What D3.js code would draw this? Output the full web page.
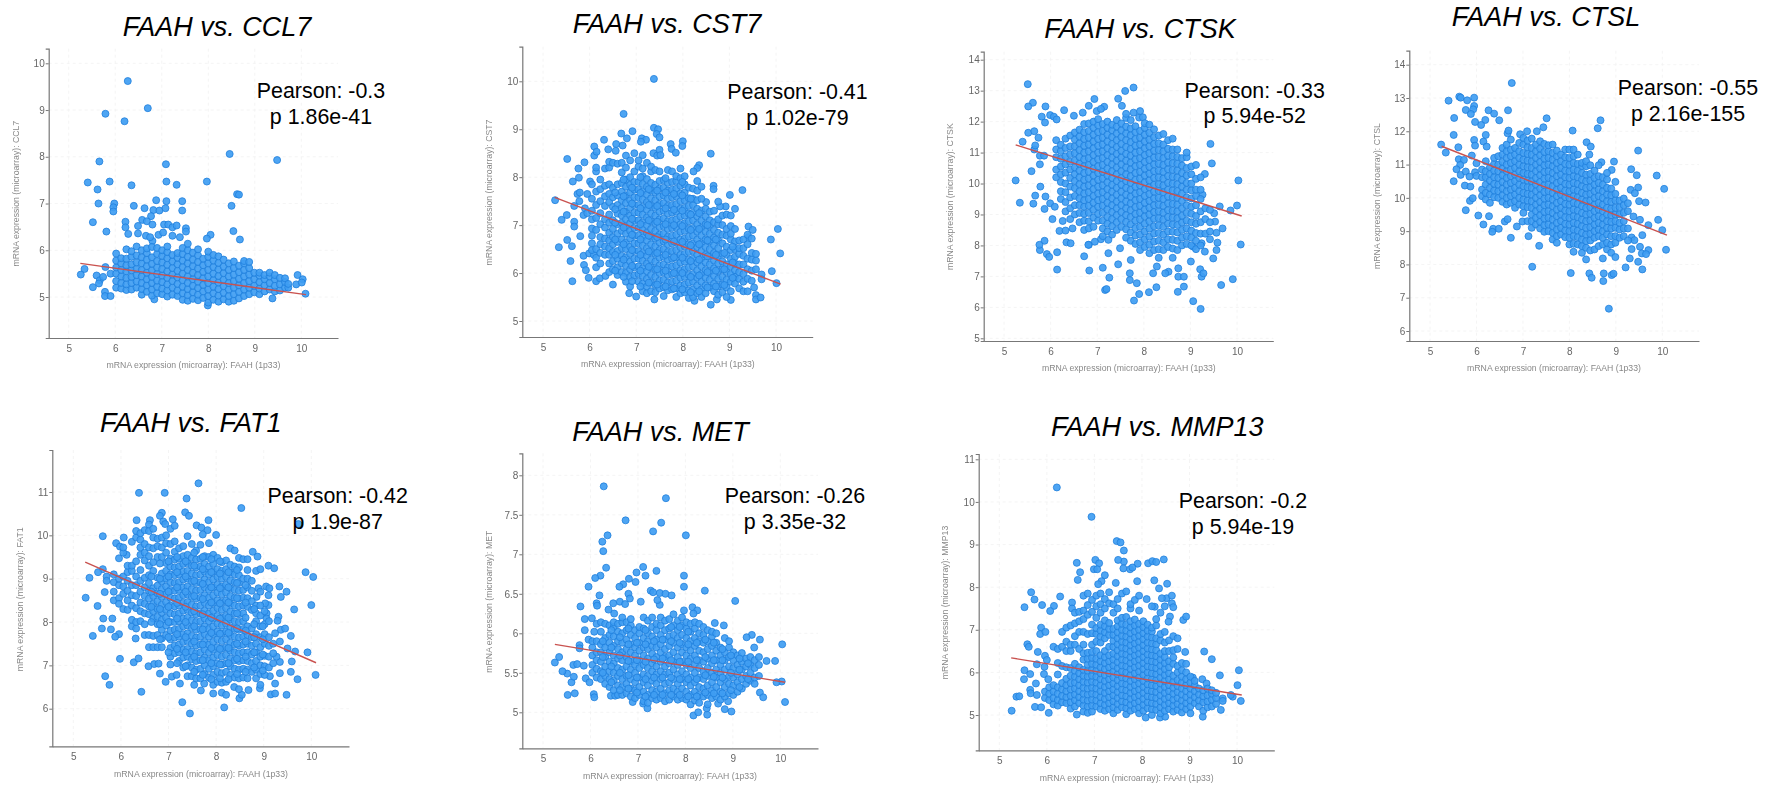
<!DOCTYPE html>
<html><head><meta charset="utf-8">
<style>html,body{margin:0;padding:0;background:#fff;overflow:hidden}svg{display:block}</style>
<script src="https://cdnjs.cloudflare.com/ajax/libs/d3/7.8.5/d3.min.js"></script>
</head><body><svg id="c" width="1768" height="793"></svg>
<script>
// Each row: [FAAH x, then the target-gene y values read at that x]
const ccl7Points=[[6.27,9.62],[6.7,9.04],[5.79,8.92],[6.2,8.76],[5.66,7.9],[7.09,7.84],[8.46,8.06],[9.48,7.93],[5.41,7.45],[5.62,7.3],[5.88,7.47],[6.35,7.39],[7.1,7.47],[7.32,7.4],[7.97,7.47],[8.62,7.2],[8.66,7.19],[5.64,7],[5.98,7],[5.96,6.92,6.83],[6.4,6.95],[6.63,6.9],[6.88,7.07],[7.1,7.05],[7.44,7.05,6.85],[8.5,6.95],[6.82,6.86],[6.95,6.85],[7.08,6.9],[6.77,6.73],[6.58,6.65],[6.68,6.62],[5.52,6.6],[6.22,6.61,6.49],[5.81,6.4],[6.28,6.35],[6.49,6.36,6.52],[6.8,6.55,6.2],[7.05,6.55],[7.14,6.55],[7.23,6.49,6.31],[7.32,6.53],[7.52,6.47,6.4],[6.93,6.33],[7.03,6.38],[7.39,6.28],[8.54,6.41],[8.68,6.23],[8.05,6.33],[7.97,6.25],[6.66,6.31],[6.75,6.28],[5.26,5.48],[5.34,5.6],[5.52,5.21],[5.6,5.46],[5.67,5.36],[5.65,5.29],[5.78,5.11,5.02],[5.9,5.02,5.5],[5.79,5.64],[5.74,5.43],[9.38,4.97],[10.09,5.07],[9.92,5.47],[10.03,5.38],[9.89,5.27],[10.01,5.31],[7.99,4.82],[6.84,4.95],
[6.02,5.2,5.34,5.5,5.63,5.78,5.93],[6.13,5.18,5.3,5.44,5.58,5.72,5.83],[6.24,5.15,5.27,5.41,5.55,5.68,5.82,6.02],[6.35,5.16,5.3,5.43,5.57,5.7,5.86,5.98],[6.46,5.2,5.33,5.47,5.6,5.74,5.89,6.08],[6.57,5.05,5.17,5.3,5.44,5.58,5.72,5.85,6],[6.68,5.11,5.25,5.38,5.52,5.66,5.8,5.94,6.04],[6.79,5.03,5.16,5.3,5.43,5.57,5.71,5.85,6.07],[6.9,5.08,5.22,5.35,5.49,5.63,5.77,5.92,6.05],[7.01,5.06,5.18,5.32,5.46,5.6,5.74,5.88,6],[7.12,5.01,5.14,5.27,5.41,5.55,5.69,5.83,5.96,6.08],[7.23,5.05,5.2,5.34,5.48,5.62,5.76,5.9],[7.34,5.02,5.14,5.28,5.42,5.56,5.7,5.84,5.94],[7.45,4.94,5.08,5.22,5.36,5.5,5.64,5.78,5.92,6.05],[7.56,4.92,5.04,5.17,5.3,5.44,5.58,5.72,5.86,6,6.14],[7.67,4.96,5.1,5.24,5.38,5.52,5.66,5.8,5.95],[7.78,4.93,5.05,5.19,5.33,5.47,5.61,5.75,5.89,6.02],[7.89,4.98,5.12,5.26,5.4,5.54,5.68,5.82],[8,4.88,5.02,5.16,5.3,5.44,5.58,5.72,5.86,5.97],[8.11,4.94,5.08,5.22,5.36,5.5,5.64,5.78,5.9],[8.22,4.9,5.03,5.17,5.31,5.45,5.59,5.73,5.87],[8.33,4.95,5.09,5.23,5.37,5.51,5.65,5.8],[8.44,4.9,5.02,5.16,5.3,5.44,5.58,5.72],[8.55,4.92,5.06,5.2,5.34,5.48,5.62,5.76],[8.66,4.97,5.11,5.25,5.39,5.53,5.67],[8.77,5.02,5.16,5.3,5.44,5.58,5.72,5.77],[8.88,5.06,5.2,5.34,5.48,5.62,5.75],[8.99,5.1,5.24,5.38,5.52],[9.1,5.06,5.18,5.32,5.46,5.52],[9.21,5.12,5.25,5.38,5.47],[9.32,5.16,5.3,5.44,5.52],[9.43,5.12,5.24,5.38,5.47],[9.54,5.14,5.27,5.41],[9.65,5.2,5.32,5.4],[9.72,5.2,5.28]];

const cst7Points=[[7.38,10.05,9.03],[6.73,9.32],[7.47,9],[7.44,8.9],[7.5,8.83,8.57],[6.92,8.96],[6.68,8.91],[6.8,8.81],[6.31,8.78],[7.12,8.81],[7.21,8.78],[7.1,8.74],[6.57,8.69],[6.71,8.66],[6.1,8.64,8.45],[6.15,8.53],[6.4,8.58],[6.56,8.55],[8,8.75],[7.99,8.65],[7.74,8.69],[7.76,8.59],[7.85,8.51],[7.37,8.5],[7.45,8.45],[7.52,8.46],[8.6,8.49],[5.52,8.38],[5.89,8.31],[5.76,8.18],[5.77,7.99],[5.64,7.91],[6.01,7.91],[9.28,7.73],[9.01,7.63],[8.66,7.82,7.75],[8.35,8.25],[8.31,8.19],[8.23,8.12],[5.74,7.65],[5.79,7.68],[5.95,7.65],[5.78,7.5],[5.26,7.52],[5.67,7.4,7.07,6.97],[5.9,7.35],[5.51,7.21],[5.4,7.11],[5.87,7.21,6.36],[5.95,7.25],[5.8,6.77],[5.52,6.69],[5.34,6.54],[5.62,6.56],[5.59,6.25],[5.63,5.83],[5.99,6.41],[6.09,6.38],[5.88,6.17],[5.92,6.06],[5.98,5.9],[6.14,5.83],[6.22,5.89],[6.34,5.94],[6.5,5.76],[10.04,6.92],[10.09,6.41],[9.89,6.7],[9.91,6.04],[10.01,5.79],[9.69,5.97,5.87],[9.53,5.7],[9.57,5.54,5.45],[9.67,5.49],[8.6,5.34],[7,5.51],[6.85,5.58],[7.39,5.45],[8.25,5.42],[8.73,5.45],[9.03,5.44],[9.41,6.97,6.75],[9.5,6.9],[9.12,7.34],[8.92,7.39],[8.8,7.39],[8.76,7.49],[8.5,7.48],
[6.05,6.48,6.62,6.78,6.93,7.12,7.3,7.55,7.85],[6.14,6.12,6.32,6.5,6.9,7.15,7.42,7.7,8.12,8.2],[6.23,6.2,6.42,6.6,6.75,7.02,7.25,7.5,7.75,7.95],[6.33,6.38,6.55,6.72,6.95,7.12,7.4,7.6,7.82,8.18],[6.42,6.02,6.2,6.38,6.52,6.68,6.84,7.05,7.22,7.48,7.65,7.85,8.2,8.32],[6.5,6.08,6.25,6.44,6.6,6.75,6.92,7.1,7.38,7.58,7.78,8.3],[6.6,5.96,6.12,6.3,6.46,6.65,6.82,7.02,7.24,7.42,7.62,7.85,8.28],[6.69,6.02,6.2,6.36,6.52,6.7,6.88,7.05,7.2,7.36,7.52,7.7,7.88,8.1,8.3],[6.78,5.82,6,6.15,6.33,6.5,6.64,6.82,6.96,7.12,7.28,7.46,7.62,7.8,7.95,8.2,8.45],[6.87,5.72,5.92,6.08,6.24,6.4,6.55,6.72,6.88,7.04,7.2,7.36,7.52,7.68,7.84,8,8.35],[6.96,5.95,6.12,6.3,6.46,6.62,6.78,6.94,7.1,7.26,7.42,7.58,7.74,7.9,8.12,8.5],[7.05,5.82,5.98,6.14,6.3,6.46,6.62,6.78,6.94,7.1,7.26,7.42,7.58,7.74,7.9,8.22,8.35],[7.14,5.62,5.78,5.94,6.1,6.26,6.42,6.58,6.74,6.9,7.06,7.22,7.38,7.54,7.7,7.86,8.02,8.18,8.46],[7.23,5.58,5.72,5.88,6.04,6.2,6.36,6.52,6.68,6.84,7,7.16,7.32,7.48,7.64,7.8,7.96,8.3],[7.32,5.62,5.8,5.96,6.12,6.28,6.44,6.6,6.76,6.92,7.08,7.24,7.4,7.56,7.72,7.88,8.12,8.22],[7.41,5.6,5.75,5.92,6.08,6.24,6.4,6.56,6.72,6.88,7.04,7.2,7.36,7.52,7.68,7.84,8.15],[7.5,5.68,5.84,6,6.16,6.32,6.48,6.64,6.8,6.96,7.12,7.28,7.44,7.6,7.76,7.92,8.12],[7.59,5.52,5.7,5.86,6.02,6.18,6.34,6.5,6.66,6.82,6.98,7.14,7.3,7.46,7.62,7.78,7.94],[7.68,5.64,5.8,5.96,6.12,6.28,6.44,6.6,6.76,6.92,7.08,7.24,7.4,7.56,7.72,7.88,8.15],[7.77,5.66,5.82,5.98,6.14,6.3,6.46,6.62,6.78,6.94,7.1,7.26,7.42,7.58,7.74,7.9,8.12],[7.86,5.5,5.68,5.84,6,6.16,6.32,6.48,6.64,6.8,6.96,7.12,7.28,7.44,7.6,7.76,7.92,8.02],[7.95,5.58,5.74,5.9,6.06,6.22,6.38,6.54,6.7,6.86,7.02,7.18,7.34,7.5,7.66,7.82,7.98,8.18],[8.04,5.6,5.76,5.92,6.08,6.24,6.4,6.56,6.72,6.88,7.04,7.2,7.36,7.52,7.68,7.85,8.02],[8.13,5.48,5.64,5.8,5.96,6.12,6.28,6.44,6.6,6.76,6.92,7.08,7.24,7.4,7.56,7.78],[8.22,5.5,5.66,5.82,5.98,6.14,6.3,6.46,6.62,6.78,6.94,7.1,7.26,7.42,7.55,7.76],[8.31,5.58,5.74,5.9,6.06,6.22,6.38,6.54,6.7,6.86,7.02,7.18,7.34,7.52,7.72,7.92],[8.4,5.5,5.66,5.82,5.98,6.14,6.3,6.46,6.62,6.78,6.94,7.1,7.3,7.55,7.8],[8.49,5.58,5.74,5.9,6.06,6.22,6.38,6.54,6.7,6.86,7.02,7.18,7.34],[8.58,5.7,5.86,6.02,6.18,6.34,6.5,6.66,6.82,6.98,7.1,7.28],[8.67,5.62,5.78,5.94,6.1,6.26,6.42,6.58,6.74,6.9,7.06,7.3],[8.76,5.55,5.72,5.88,6.04,6.2,6.36,6.52,6.68,6.84,7.02,7.12],[8.85,5.6,5.76,5.92,6.08,6.24,6.4,6.62,6.8,7,7.2],[8.94,5.5,5.7,5.86,6.02,6.18,6.38,6.55,6.78,6.92,7.22],[9.03,5.62,5.82,5.98,6.14,6.3,6.48,6.7,6.82,6.98,7.2],[9.12,5.78,5.92,6.06,6.2,6.34,6.5,6.66,6.92],[9.21,5.68,5.88,6.02,6.18,6.4,6.52,6.68],[9.3,5.62,5.82,5.98,6.18,6.36,6.52,6.7],[9.39,5.62,5.88,6.08,6.3,6.6,6.8],[9.48,5.84,6.05,6.28,6.42,6.72],[9.57,6.08,6.26,6.4],
[6.55,6.05,6.38,6.7,7.05,7.33,7.68],[6.73,5.92,6.28,6.6,6.95,7.28,7.6,7.95],[6.91,5.83,6.15,6.48,6.8,7.13,7.45,7.78],[7.09,5.72,6.05,6.38,6.7,7.02,7.35,7.67,8],[7.27,5.8,6.13,6.45,6.78,7.1,7.42,7.75],[7.45,5.76,6.08,6.42,6.75,7.07,7.4,7.72],[7.63,5.72,6.05,6.38,6.7,7.02,7.35,7.68,7.98],[7.81,5.68,6,6.33,6.66,7,7.32,7.65],[7.99,5.66,6,6.32,6.65,6.98,7.3,7.62,7.9],[8.17,5.6,5.92,6.25,6.58,6.9,7.22,7.55],[8.35,5.62,5.95,6.28,6.6,6.92,7.25],[8.53,5.7,6.02,6.35,6.68,7],[8.71,5.72,6.05,6.38,6.7],[8.89,5.75,6.08,6.42],[9.07,5.9,6.22,6.55]];

const ctskPoints=[[5.51,13.21],[7.78,13.1,12.29],[7.6,12.99],[6.94,12.73],[7.45,12.74],[5.62,12.61],[5.52,12.49,11.64],[5.89,12.49,9.58],[6.29,12.37],[6.82,12.51,8.02],[7.15,12.48],[6.99,12.34],[7.08,12.41,8.2],[7.53,12.51],[6.69,12.29],[6.5,12.19],[5.81,12.16],[5.99,12.21,9.36],[6.07,12.16],[6.13,12.07],[5.88,11.97],[7.92,12.34],[7.9,12.13,6.43],[7.98,12.14],[5.65,11.69,11.1],[5.4,11.35],[5.74,11.48],[5.67,11.23,9.61],[5.77,10.9,10.62,7.85],[5.86,10.9],[5.59,10.4],[5.25,10.1],[5.78,9.9],[5.34,9.38],[5.63,9.35],[5.87,9.18,8.15],[6.09,9.25],[6.04,8.85],[6.26,8.79],[6.19,8.47],[6.32,8.48],[6.47,8.55],[6.34,8.1],[6.43,8.07],[5.76,8.02],[5.92,7.72],[5.97,7.63],[6.14,7.78,7.22],[6.72,7.65],[6.83,7.19],[7.12,7.28],[7.26,6.96],[7.24,7.75,8.18],[7.45,7.39],[7.17,6.56],[7.2,6.59],[7.79,6.22],[8.11,6.49],[8.27,6.65],[8.73,6.5],[8.86,6.67],[9.06,6.2,7.96],[9.22,5.95],[9.66,6.72],[9.91,6.91],[10.08,8.03],[10,9.29],[9.86,9.13],[9.63,9.26],[10.03,10.1],[9.43,11.28],[9.46,10.65],[9.31,10.31,7.8],[9.26,9.64],[9.69,8.55],[9.51,9.04],[9.53,8.77],[9.56,8.41,7.85],[9.58,8.09],[9.49,7.58],[9.24,8.07,6.99],[9.21,7.23],[9.28,7.1],[9.01,7.48],[8.74,7.26,6.99],[8.86,6.99],[8.53,7.15],[8.46,7.1],[8.28,7.32],[8.2,7.1],[7.7,7.1,6.88],[7.85,6.78],[7.72,7.53],[7.49,7.91],[6.95,8.12],[6.81,8.02],
[6.12,10.2,10.45,10.85,11.1,11.4],[6.22,9.5,9.75,10.05,10.3,10.55,10.8,11.05,11.25],[6.32,9.1,9.4,9.72,10,10.35,10.62,10.88,11.15,11.45],[6.42,8.85,9.2,9.55,9.9,10.18,10.45,10.7,10.95,11.2,11.55],[6.52,9,9.3,9.6,9.85,10.08,10.3,10.52,10.75,10.98,11.2,11.42,11.65],[6.62,8.75,9.05,9.3,9.52,9.75,9.98,10.2,10.42,10.64,10.86,11.08,11.3,11.52,11.74],[6.72,8.5,8.8,9.02,9.25,9.46,9.68,9.9,10.12,10.34,10.56,10.78,11,11.22,11.44,11.66,11.92],[6.82,8.55,8.78,9.05,9.28,9.5,9.72,9.94,10.16,10.38,10.6,10.82,11.04,11.26,11.48,11.7,11.94],[6.92,8.6,8.9,9.15,9.38,9.6,9.82,10.04,10.26,10.48,10.7,10.92,11.14,11.36,11.58,11.8,12],[7.02,8.8,9.02,9.25,9.46,9.68,9.9,10.12,10.34,10.56,10.78,11,11.22,11.44,11.66,11.88,12.08],[7.12,8.3,8.55,8.8,9.05,9.28,9.5,9.72,9.94,10.16,10.38,10.6,10.82,11.04,11.26,11.48,11.7,11.92],[7.22,8.45,8.7,8.92,9.16,9.38,9.6,9.82,10.04,10.26,10.48,10.7,10.92,11.14,11.36,11.58,11.8,12],[7.32,8.35,8.62,8.85,9.08,9.3,9.52,9.74,9.96,10.18,10.4,10.62,10.84,11.06,11.28,11.5,11.72,11.9],[7.42,8.5,8.75,8.98,9.2,9.42,9.64,9.86,10.08,10.3,10.52,10.74,10.96,11.18,11.4,11.62,11.84,12.05],[7.52,8.6,8.85,9.08,9.3,9.52,9.74,9.96,10.18,10.4,10.62,10.84,11.06,11.28,11.5,11.72,11.94],[7.62,8.25,8.52,8.76,8.98,9.2,9.42,9.64,9.86,10.08,10.3,10.52,10.74,10.96,11.18,11.4,11.62,11.84,12.12,12.25],[7.72,8.15,8.42,8.68,8.92,9.14,9.36,9.58,9.8,10.02,10.24,10.46,10.68,10.9,11.12,11.34,11.56,11.78,12.05],[7.82,8.05,8.32,8.56,8.8,9.02,9.24,9.46,9.68,9.9,10.12,10.34,10.56,10.78,11,11.22,11.44,11.66,11.85],[7.92,7.85,8.1,8.35,8.6,8.84,9.06,9.28,9.5,9.72,9.94,10.16,10.38,10.6,10.82,11.04,11.26,11.48,11.7],[8.02,7.95,8.2,8.45,8.7,8.94,9.16,9.38,9.6,9.82,10.04,10.26,10.48,10.7,10.92,11.14,11.36,11.58,11.8,11.95],[8.12,7.75,8.02,8.28,8.54,8.78,9,9.22,9.44,9.66,9.88,10.1,10.32,10.54,10.76,10.98,11.2,11.42,11.64,11.9],[8.22,7.85,8.12,8.38,8.62,8.86,9.08,9.3,9.52,9.74,9.96,10.18,10.4,10.62,10.84,11.06,11.28,11.5,11.75],[8.32,7.6,7.88,8.15,8.4,8.65,8.88,9.1,9.32,9.54,9.76,9.98,10.2,10.42,10.64,10.86,11.08,11.3,11.55],[8.42,7.85,8.1,8.35,8.6,8.84,9.06,9.28,9.5,9.72,9.94,10.16,10.38,10.6,10.82,11.04,11.26,11.6],[8.52,7.95,8.2,8.45,8.7,8.92,9.14,9.36,9.58,9.8,10.02,10.24,10.46,10.68,10.9,11.12,11.4],[8.62,7.6,7.9,8.18,8.44,8.68,8.9,9.12,9.34,9.56,9.78,10,10.22,10.44,10.66,10.88,11.1,11.45],[8.72,7.85,8.15,8.42,8.66,8.88,9.1,9.32,9.54,9.76,9.98,10.2,10.42,10.64,10.86,11.1],[8.82,8,8.25,8.5,8.74,8.96,9.2,9.44,9.68,9.9,10.12,10.34,10.58,10.82],[8.92,8.05,8.3,8.55,8.8,9.05,9.3,9.55,9.8,10.02,10.26,10.5,10.85,11],[9.02,8,8.25,8.48,8.75,9.02,9.25,9.52,9.78,10,10.3,10.55],[9.12,7.88,8.15,8.4,8.7,8.95,9.3,9.6,9.8,10.15,10.6],[9.22,8,8.38,8.75,9.1,9.5,9.8,10.2],[9.32,8.38,8.85,9.2],[9.42,8.2,8.45,8.75,9.15]];

const ctslPoints=[[6.76,13.45],[5.4,12.92],[5.63,13.04],[5.66,13.01,10.69],[5.8,12.93],[5.95,13.01,12.76,11.74],[5.93,12.66],[5.77,12.64,10.79,9.63],[5.88,12.52],[6.26,12.63],[6.38,12.53],[6.49,12.33],[6.19,12.34],[6.1,12.19],[6.68,12.63],[5.52,12.4],[5.97,12.28,11.57,10.77],[7.51,12.39],[7.44,12.12],[8.67,12.33],[8.61,12.09],[8.07,12.02],[5.51,11.89,10.5],[5.24,11.6],[5.34,11.36],[5.61,11.52],[6.2,11.89],[6.15,11.69,9.2],[6.22,11.54],[5.62,11.16],[5.73,11.14],[5.9,11.27],[6,11.04,10.66],[5.65,10.99],[5.57,10.86],[5.85,10.64],[5.75,10.37],[5.87,10.34],[5.86,9.91],[5.92,9.99],[6.04,9.47],[6.27,9.45],[6.36,9.07],[6.34,8.98],[6.48,9.07],[6.61,9.29],[6.67,9.36,11.94],[6.74,8.8],[6.87,9.14],[6.99,9.29],[7.12,8.85],[7.35,8.56],[7.2,7.93],[8.03,7.74],[8.43,7.73,11.3],[8.48,7.6],[8.74,7.73],[8.73,7.5],[8.91,7.68,10.84],[8.95,7.72],[8.85,6.67],[9.21,7.91],[9.48,8.08,11.42,10.31],[9.57,7.85,8.88],[9.3,8.18],[10.08,8.44],[10,9.03],[9.91,9.34],[10.04,10.27],[9.88,10.67],[9.33,10.86],[9.45,10.68],[9.32,10.24],[9.41,10.14],[9.5,9.9],[9.64,9.86],[9.7,9.18,8.43],[9.52,9.34,8.53],[9.38,9.44],[9.34,8.81,8.46],[9.4,8.73],[9.56,8.33],[9.65,8.31],[8.96,11.09],[8.69,11.07],[8.37,11.67],[8.46,11.54],[6.69,12.02],[6.94,11.91],[7.09,12],[7.3,12],
[6.12,10.05,10.25,10.62,10.85],[6.2,9.95,10.15,10.4,10.62,10.8,11.1],[6.29,9.85,10.1,10.3,10.52,10.72,10.92],[6.38,10.02,10.22,10.42,10.62,10.82,11.02,11.2],[6.47,10,10.2,10.4,10.6,10.8,11,11.25],[6.56,9.88,10.08,10.28,10.48,10.68,10.88,11.08,11.3,11.5],[6.65,9.8,10,10.2,10.4,10.6,10.8,11,11.2,11.4,11.6],[6.74,9.85,10.05,10.25,10.45,10.65,10.85,11.05,11.25,11.45,11.75],[6.83,9.7,9.9,10.1,10.3,10.5,10.7,10.9,11.1,11.3,11.5],[6.92,9.8,10,10.2,10.4,10.6,10.8,11,11.2,11.4,11.65],[7.01,9.55,9.75,9.95,10.15,10.35,10.55,10.75,10.95,11.15,11.35,11.6,11.8],[7.1,9.3,9.72,9.92,10.12,10.32,10.52,10.72,10.92,11.12,11.32,11.52,11.72],[7.19,9.1,9.3,9.5,9.7,9.9,10.1,10.3,10.5,10.7,10.9,11.1,11.3,11.5,11.78],[7.28,9.2,9.4,9.6,9.8,10,10.2,10.4,10.6,10.8,11,11.2,11.4,11.6],[7.37,9.08,9.28,9.48,9.68,9.88,10.08,10.28,10.48,10.68,10.88,11.08,11.28,11.48,11.7],[7.46,8.98,9.18,9.38,9.58,9.78,9.98,10.18,10.38,10.58,10.78,10.98,11.18,11.38,11.62],[7.55,9,9.2,9.4,9.6,9.8,10,10.2,10.4,10.6,10.8,11,11.2,11.4,11.58],[7.64,8.75,8.95,9.15,9.35,9.55,9.75,9.95,10.15,10.35,10.55,10.75,10.95,11.15,11.35,11.6],[7.73,8.65,8.85,9.05,9.25,9.45,9.65,9.85,10.05,10.25,10.45,10.65,10.85,11.05,11.25,11.42],[7.82,8.9,9.1,9.3,9.5,9.7,9.9,10.1,10.3,10.5,10.7,10.9,11.1,11.3],[7.91,8.82,9.02,9.22,9.42,9.62,9.82,10.02,10.22,10.42,10.62,10.82,11.02,11.22,11.45],[8,8.6,8.8,9,9.2,9.4,9.6,9.8,10,10.2,10.4,10.6,10.8,11,11.2,11.45],[8.09,8.38,8.62,8.85,9.05,9.25,9.45,9.65,9.85,10.05,10.25,10.45,10.65,10.85,11.05,11.25,11.45],[8.18,8.6,8.82,9.02,9.22,9.42,9.62,9.82,10.02,10.22,10.42,10.62,10.82,11.02,11.3],[8.27,8.35,8.55,8.75,8.95,9.15,9.35,9.55,9.75,9.95,10.15,10.35,10.55,10.75,10.95,11.05],[8.36,8.15,8.5,8.7,8.9,9.1,9.3,9.5,9.7,9.9,10.1,10.3,10.5,10.7,10.95,11.1],[8.45,8.42,8.72,8.92,9.12,9.32,9.52,9.72,9.92,10.12,10.32,10.52,10.72,10.98],[8.54,8.45,8.8,9,9.2,9.4,9.6,9.8,10,10.2,10.4,10.6,10.82],[8.63,8.55,8.85,9.05,9.25,9.45,9.65,9.85,10.05,10.25,10.45,10.65,10.98],[8.72,8.18,8.6,8.8,9,9.2,9.4,9.6,9.8,10,10.2,10.4,10.62],[8.81,8.45,8.65,8.9,9.1,9.3,9.5,9.7,9.9,10.1,10.3,10.55,10.75],[8.9,8.35,8.6,8.85,9.08,9.28,9.48,9.68,9.88,10.08,10.28],[8.99,8.22,8.65,8.85,9.1,9.3,9.5,9.7,9.92,10.12,10.48],[9.08,8.8,9.05,9.25,9.5,9.72,9.92],[9.17,8.85,9.08,9.3,9.55,9.78,9.98],[9.26,8.72,9.08,9.6,9.84]];

const fat1Points=[[7.63,11.2],[6.38,10.98],[6.92,10.98],[7.38,10.85],[8.53,10.63],[9.73,10.26],[7.35,10.53],[7.43,10.45],[6.86,10.52],[6.82,10.45,6.81],[6.33,10.35],[6.61,10.35],[7.09,10.37],[7.84,10.35],[6.89,10.32],[6.93,10.26],[7.59,10.23],[7.69,10.18],[7.82,10.12],[8,10.01],[7.72,10.02],[5.62,9.98,9.22],[5.9,9.82],[6.06,9.95],[5.98,9.74,7.15],[5.96,9.47,7.72],[6.12,9.55],[8.77,9.62],[8.87,9.51],[9.1,9.3,8.62,8.39],[9.22,9.24],[9.88,9.15],[10.04,9.04],[5.52,9.15],[5.34,9.02],[5.26,8.56],[5.51,8.37],[5.66,8.69],[5.63,8.08],[5.82,8.08],[5.6,7.85],[5.79,7.83],[5.41,7.68],[5.88,7.66],[6.27,7.07],[6.37,7.16],[6.31,7.62],[5.67,6.75],[5.76,6.55],[6.43,6.39],[6.58,6.98],[6.7,7.03],[6.79,7.04],[6.94,6.62],[7.07,6.74],[7.17,6.78],[7.24,6.58],[7.29,6.15],[7.45,5.89],[8.17,6.03],[7.54,6.55],[7.68,6.42],[7.75,6.58],[7.94,6.35],[8.12,6.37],[8.21,6.32],[8.38,6.5],[8.49,6.24],[8.54,6.32],[8.68,6.43],[8.92,6.47],[9.15,6.33],[9.24,6.35,6.58],[9.48,6.32,8.7],[9.71,6.68],[10.09,6.78],[9.57,6.85,7.68],[9.59,7.09],[9.92,7.3],[9.64,8.29],[10,8.39],[9.36,8.58,7.82],[9.33,8.82],[9.31,8.12],[9.29,8.03],[9.45,7.85],[9.24,7.74],[9.34,7.55,7.08,6.82],[9.5,7.39],[9.66,7.32],[9.27,7.2],[9.13,6.75],[9.05,8.82],[9.12,8.78],[8.89,8.78],[8.85,8.58],[9.03,8.43],[9.06,8.2,8.08],
[5.7,9.05,8.95],[5.85,8.92,8.7,8.5,9.1],[5.96,8.55,8.42,8.85,9],[6.05,8.3,8.65,8.82,9.05,9.6,9.72],[6.14,8.28,8.5,8.72,8.95,9.15,9.3],[6.23,7.9,8.05,8.38,8.62,8.85,9.18,9.3,9.85],[6.32,7.85,8,8.32,8.6,8.85,9.05,9.4,9.95,10.1],[6.41,8.02,8.25,8.45,8.7,8.95,9.2,9.55,9.72,9.9,10.05],[6.5,7.7,7.95,8.2,8.42,8.6,8.8,9.02,9.42,9.6,9.8,10.12],[6.59,7.42,7.7,8.18,8.36,8.54,8.72,8.9,9.08,9.3,9.52,9.72,10.1,10.25],[6.68,7.42,7.68,8.08,8.25,8.42,8.6,8.78,9.18,9.38,9.7,9.95,10.15],[6.77,7.42,7.7,7.95,8.12,8.3,8.48,8.66,8.84,9.02,9.5,9.75,9.92],[6.86,7.42,7.62,7.82,8.05,8.22,8.4,8.58,8.76,8.94,9.12,9.5,9.72,9.95],[6.95,7.7,7.92,8.1,8.28,8.46,8.64,8.82,9,9.18,9.36,9.6,9.82,10],[7.04,7.02,7.2,7.4,7.6,7.8,8,8.2,8.38,8.56,8.74,8.92,9.1,9.28,9.46,9.8,10.15],[7.13,7.28,7.46,7.64,7.82,8,8.18,8.36,8.54,8.72,8.9,9.08,9.26,9.44,9.62,9.86,10.22],[7.22,7.1,7.3,7.48,7.66,7.84,8.02,8.2,8.38,8.56,8.74,8.92,9.1,9.28,9.46,9.7],[7.31,6.95,7.18,7.36,7.54,7.72,7.9,8.08,8.26,8.44,8.62,8.8,8.98,9.16,9.34,9.52,9.75],[7.4,6.75,7,7.2,7.38,7.56,7.74,7.92,8.1,8.28,8.46,8.64,8.82,9,9.18,9.36,9.55,9.98],[7.49,6.75,6.95,7.14,7.32,7.5,7.68,7.86,8.04,8.22,8.4,8.58,8.76,8.94,9.12,9.3,9.48,9.8],[7.58,6.7,6.9,7.1,7.28,7.46,7.64,7.82,8,8.18,8.36,8.54,8.72,8.9,9.08,9.26,9.44,9.65],[7.67,6.7,6.92,7.12,7.3,7.48,7.66,7.84,8.02,8.2,8.38,8.56,8.74,8.92,9.1,9.28,9.46,9.78],[7.76,6.8,7,7.18,7.36,7.54,7.72,7.9,8.08,8.26,8.44,8.62,8.8,8.98,9.16,9.34,9.52],[7.85,6.72,6.92,7.12,7.3,7.48,7.66,7.84,8.02,8.2,8.38,8.56,8.74,8.92,9.1,9.28,9.5,9.82],[7.94,6.55,6.78,6.98,7.18,7.36,7.54,7.72,7.9,8.08,8.26,8.44,8.62,8.8,8.98,9.16,9.34,9.55],[8.03,6.62,6.85,7.05,7.24,7.42,7.6,7.78,7.96,8.14,8.32,8.5,8.68,8.86,9.04,9.22,9.48],[8.12,6.6,6.82,7.02,7.2,7.38,7.56,7.74,7.92,8.1,8.28,8.46,8.64,8.82,9,9.18,9.38],[8.21,6.62,6.85,7.05,7.24,7.42,7.6,7.78,7.96,8.14,8.32,8.5,8.68,8.86,9.04,9.22,9.42],[8.3,6.78,6.98,7.16,7.34,7.52,7.7,7.88,8.06,8.24,8.42,8.6,8.78,8.96,9.14,9.32,9.7],[8.39,6.72,6.92,7.12,7.3,7.48,7.66,7.84,8.02,8.2,8.38,8.56,8.74,8.92,9.1,9.28,9.65],[8.48,6.45,6.7,6.9,7.1,7.28,7.46,7.64,7.82,8,8.18,8.36,8.54,8.72,8.9,9.08,9.26,9.48],[8.57,6.72,6.92,7.12,7.3,7.48,7.66,7.84,8.02,8.2,8.38,8.56,8.74,9,9.45],[8.66,6.7,6.9,7.1,7.3,7.5,7.7,7.9,8.35,8.55,8.8,9,9.2,9.45],[8.75,6.85,7.05,7.25,7.45,7.65,7.85,8.28,8.48,8.72,8.95],[8.84,6.7,6.9,7.1,7.3,7.5,7.72,8.02,8.2,8.38,9.18],[8.93,6.55,6.8,7,7.2,7.42,7.65,7.9,8.15,8.38,8.7,9.22],[9.02,6.78,6.98,7.22,7.5,7.72,7.95,8.25],[9.11,6.95,7.2,7.45,7.65,8.02],[9.2,7.05,7.28,7.5],
[6.64,8,8.35,8.7,9.05],[6.82,7.6,7.95,8.3,8.65,9,9.35],[7,7.3,7.65,8,8.35,8.7,9.05,9.4],[7.18,7.05,7.38,7.72,8.08,8.44,8.8,9.15,9.5],[7.36,6.98,7.3,7.65,8,8.35,8.7,9.05,9.4],[7.54,6.85,7.2,7.55,7.9,8.25,8.6,8.95,9.3,9.6],[7.72,6.78,7.12,7.48,7.83,8.18,8.53,8.88,9.22,9.5],[7.9,6.68,7.05,7.4,7.75,8.1,8.45,8.8,9.15,9.45],[8.08,6.7,7.02,7.38,7.73,8.08,8.43,8.78,9.12,9.4],[8.26,6.68,7.05,7.4,7.75,8.1,8.45,8.8,9.15],[8.44,6.8,7.15,7.5,7.85,8.2,8.55,8.9,9.2],[8.62,6.85,7.2,7.55,7.8,8.1,8.45,8.85],[8.8,6.95,7.3,7.65,7.95,8.3],[8.98,6.88,7.25,7.6,7.9]];

const metPoints=[[6.28,7.86],[7.59,7.71],[6.74,7.43],[7.49,7.4],[7.32,7.29],[8.01,7.24],[6.36,7.24],[6.25,7.16],[6.27,7.04],[6.33,6.83],[7.11,6.84,5.11],[6.21,6.73],[6.1,6.7],[5.96,6.59,5.92],[6.97,6.77],[7.16,6.73],[7.39,6.79],[7.97,6.73,6.59,6.29],[8.41,6.54],[9.05,6.41],[6.81,6.69],[6.95,6.65],[6.69,6.62],[6.61,6.59],[6.19,6.48],[6.13,6.38],[6.14,6.35],[5.79,6.34],[6.8,6.5],[6.83,6.44],[7.06,6.4],[7.27,6.54],[7.32,6.52],[7.46,6.51,6.36],[7.58,6.5],[7.71,6.48],[7.41,6.42],[6.48,6.38],[6.62,6.4],[6.73,6.37],[6.38,6.3],[6.5,6.25],[8.15,6.33],[8.25,6.29],[8.17,6.25],[5.88,6.18,6.04],[6.03,6.19],[6.08,6.02],[8.81,6.1],[8.62,6.13],[9.4,5.98],[9.29,5.95],[9.57,5.92],[10.04,5.86],[9.45,5.82],[9.89,5.65],[9.71,5.65],[10.03,5.39],[9.92,5.38],[10.1,5.13],[9.57,5.25],[9.64,5.19],[8.97,5.01],[8.83,5.04],[8.46,4.97],[8.17,4.96],[8.27,5],[8.45,5.05],[8.69,5.11],[8.9,5.14],[7.2,5.05],[6.89,5.13],[6.43,5.21],[6.52,5.21],[6.07,5.23],[6.08,5.19],[5.52,5.22],[5.67,5.24],[5.6,5.38],[5.51,5.49],[5.41,5.52],[5.65,5.45],[5.25,5.63],[5.34,5.7],[5.64,5.6],[5.72,5.61],[5.86,5.59],[5.9,5.43],[5.98,5.38],[5.77,5.85,5.81],
[6.04,5.5,5.6,5.72,5.82,5.9],[6.13,5.44,5.55,5.66,5.76,5.9,6.12],[6.22,5.42,5.52,5.64,5.76,5.86,6.02,6.14],[6.31,5.36,5.46,5.58,5.7,5.82,5.94,6.12],[6.4,5.32,5.42,5.52,5.64,5.76,5.88,5.98,6.1],[6.49,5.28,5.4,5.5,5.62,5.72,5.84,5.96,6.08,6.14],[6.58,5.22,5.34,5.46,5.56,5.68,5.8,5.9,6.02,6.12],[6.67,5.22,5.32,5.42,5.54,5.66,5.76,5.88,6,6.14,6.2],[6.76,5.24,5.36,5.46,5.58,5.7,5.8,5.92,6.04,6.14],[6.85,5.2,5.3,5.42,5.54,5.64,5.76,5.86,5.98,6.1,6.18],[6.94,5.18,5.28,5.38,5.5,5.6,5.72,5.82,5.94,6.04],[7.03,5.22,5.32,5.44,5.56,5.66,5.78,5.88,6,6.08],[7.12,5.14,5.26,5.38,5.48,5.6,5.72,5.82,5.94,6.06,6.2],[7.21,5.12,5.22,5.34,5.46,5.56,5.68,5.8,5.9,6,6.16],[7.3,5.18,5.28,5.4,5.52,5.62,5.74,5.84,5.96,6.08,6.2],[7.39,5.16,5.26,5.36,5.48,5.58,5.7,5.82,5.92,6.04,6.12],[7.48,5.18,5.3,5.42,5.52,5.64,5.76,5.86,5.98,6.1,6.2],[7.57,5.14,5.24,5.36,5.48,5.58,5.7,5.8,5.92,6.04,6.16],[7.66,5.16,5.28,5.38,5.5,5.62,5.72,5.84,5.96,6.06,6.18],[7.75,5.2,5.3,5.42,5.54,5.64,5.76,5.88,5.98,6.1,6.24],[7.84,5.16,5.26,5.36,5.48,5.6,5.7,5.82,5.94,6.04,6.16],[7.93,5.18,5.3,5.42,5.52,5.64,5.76,5.86,5.98,6.1,6.2],[8.02,5.16,5.26,5.38,5.48,5.6,5.72,5.82,5.94,6.06,6.14],[8.11,5.1,5.22,5.34,5.44,5.56,5.68,5.78,5.9,6.02,6.12],[8.2,5.15,5.26,5.38,5.5,5.6,5.72,5.84,5.94,6.06,6.14],[8.29,5.12,5.22,5.32,5.44,5.56,5.66,5.78,5.9,6,6.12],[8.38,5.2,5.3,5.42,5.52,5.64,5.76,5.88,5.98,6.08],[8.47,5.1,5.22,5.34,5.46,5.56,5.68,5.8,5.9,6.04],[8.56,5.18,5.28,5.38,5.5,5.62,5.72,5.84,5.96,6.02],[8.65,5.2,5.32,5.44,5.54,5.66,5.78,5.88,6],[8.74,5.16,5.26,5.38,5.5,5.6,5.72,5.82],[8.83,5.2,5.32,5.42,5.54,5.66,5.76,5.94],[8.92,5.24,5.36,5.46,5.58,5.7,5.82,5.9],[9.01,5.22,5.34,5.44,5.56,5.66,5.76],[9.1,5.26,5.38,5.48,5.6,5.72],[9.19,5.3,5.42,5.54,5.64,5.75],[9.28,5.36,5.46,5.58,5.68],[9.37,5.4,5.5,5.6,5.7],[9.46,5.36,5.44,5.56,5.66],[9.55,5.46,5.6,5.7],
[6.26,5.5,5.7,5.9],[6.44,5.38,5.58,5.82,6.04],[6.62,5.28,5.5,5.72,5.95],[6.8,5.3,5.47,5.65,5.86,6.06],[6.98,5.25,5.44,5.66,5.88],[7.16,5.2,5.42,5.64,5.86,6.04],[7.34,5.22,5.44,5.67,5.9],[7.52,5.22,5.44,5.68,5.92],[7.7,5.22,5.44,5.66,5.9,6.08],[7.88,5.22,5.42,5.64,5.88,6.08],[8.06,5.2,5.42,5.64,5.86,6.02],[8.24,5.2,5.42,5.66,5.88],[8.42,5.25,5.47,5.7,5.92],[8.6,5.24,5.45,5.66,5.88],[8.78,5.24,5.44,5.66,5.8],[8.96,5.28,5.5,5.72],[9.14,5.32,5.54,5.68],[9.32,5.42,5.62]];

const mmp13Points=[[6.21,10.34],[6.94,9.65],[7.47,9.08],[7.55,9.05],[7.62,8.86,8.6],[7.5,8.64],[7.02,8.64],[7.1,8.56],[6.63,8.57,5.01],[7.91,8.55],[8.13,8.56],[8.22,8.61],[8.3,8.59],[8.46,8.65],[7.61,8.44],[7.75,8.42],[7.8,8.46],[6.99,8.42],[7.06,8.42],[6.7,8.35],[7.22,8.28],[6.65,8.17],[7.15,8.14],[7.08,8.07],[7.45,8.1],[7.9,8.14],[8.26,8.16],[8.53,8.08],[8.36,7.97],[5.67,7.88],[5.74,7.71],[5.9,7.58],[5.53,7.53],[6.28,7.78],[6.15,7.56],[6.07,7.44],[6.53,7.64,7.5],[8.87,7.23],[8.93,7.31],[5.88,7.05],[5.86,6.9],[5.97,6.95],[5.59,6.66],[5.62,6.6],[5.81,6.48],[5.96,6.39],[6,6.29],[5.79,6.19],[5.53,6.05],[5.65,5.96],[5.52,5.84],[5.77,5.74],[5.95,6.13],[5.94,5.96],[6.03,5.84],[5.65,5.59],[5.66,5.51],[5.79,5.47],[5.36,5.43],[5.42,5.44],[5.26,5.1],[5.75,5.19],[5.88,5.18],[6.04,5.05],[9.31,6.49],[9.47,6.31],[8.91,6.48],[9.64,5.93],[10.04,6.05],[10.01,5.7],[10.08,5.33],[9.91,5.43],[9.87,5.47],[9.7,5.39,5.33],[9.66,5.12],[9.28,4.96],[8.08,4.94],[8.38,4.94],[8.49,4.96],[9.27,5.84],[9.36,5.74],[9.07,5.88],[8.52,7.74],[8.63,7.62,7.8],[8.66,7.53],[8.42,7.74],[8.27,7.54],[8.1,7.72],[8.59,7.31],[8.56,7.19],
[5.96,5.4,5.55],[6.05,5.35,5.5,5.65],[6.14,5.25,5.4,5.55,5.7,6.6],[6.23,5.22,5.35,5.5,5.65,5.95,6.22,6.55],[6.32,5.3,5.45,5.6,5.75,6.15,6.6,6.95],[6.41,5.28,5.42,5.56,5.7,5.85,6.12,6.5,6.72,7.05],[6.5,5.15,5.3,5.45,5.6,5.75,5.92,6.1,6.5,6.65,7.1],[6.59,5.2,5.35,5.48,5.62,5.76,5.9,6.04,6.2,6.65,6.85,7.15,7.4],[6.68,5.28,5.42,5.56,5.7,5.84,5.98,6.12,6.55,6.95,7.2,7.42],[6.77,5.08,5.22,5.36,5.5,5.64,5.78,5.92,6.06,6.3,6.45,6.65,6.95,7.25,7.45,7.8],[6.86,5.05,5.2,5.34,5.48,5.62,5.76,5.9,6.04,6.18,6.32,6.46,6.9,7.35,7.58,7.85],[6.95,5.08,5.22,5.36,5.5,5.64,5.78,5.92,6.06,6.2,6.34,6.48,6.65,6.92,7.12,7.42,7.7],[7.04,5.2,5.34,5.48,5.62,5.76,5.9,6.04,6.18,6.32,6.5,6.72,6.9,7.04,7.28,7.55,7.8],[7.13,5.14,5.28,5.42,5.56,5.7,5.84,5.98,6.12,6.26,6.4,6.7,6.84,6.98,7.12,7.4,7.6,7.85],[7.22,5.1,5.24,5.38,5.52,5.66,5.8,5.94,6.08,6.22,6.36,6.5,6.8,6.94,7.08,7.22,7.5,7.72],[7.31,5.14,5.28,5.42,5.56,5.7,5.84,5.98,6.12,6.26,6.4,6.6,6.88,7.02,7.16,7.62,7.88],[7.4,5.04,5.18,5.32,5.46,5.6,5.74,5.88,6.02,6.16,6.3,6.44,6.6,6.74,6.88,7.02,7.4,7.6],[7.49,5.12,5.26,5.4,5.54,5.68,5.82,5.96,6.1,6.24,6.38,6.52,6.66,6.8,6.94,7.08,7.22,7.5,7.72],[7.58,5.18,5.32,5.46,5.6,5.74,5.88,6.02,6.16,6.3,6.44,6.58,6.72,6.86,7,7.14,7.28,7.85],[7.67,5.02,5.16,5.3,5.44,5.58,5.72,5.86,6,6.14,6.28,6.42,6.56,6.7,6.84,6.98,7.12,7.3,7.9],[7.76,5.1,5.24,5.38,5.52,5.66,5.8,5.94,6.08,6.22,6.36,6.5,6.64,6.78,6.92,7.06,7.2,7.5,7.6],[7.85,5.14,5.28,5.42,5.56,5.7,5.84,5.98,6.12,6.26,6.4,6.54,6.68,6.82,6.96,7.1,7.24,7.7],[7.94,5.04,5.18,5.32,5.46,5.6,5.74,5.88,6.02,6.16,6.3,6.44,6.58,6.72,6.86,7,7.14,7.45,7.8],[8.03,5.1,5.24,5.38,5.52,5.66,5.8,5.94,6.08,6.22,6.36,6.5,6.64,6.78,6.92,7.06,7.2],[8.12,5.16,5.3,5.44,5.58,5.72,5.86,6,6.14,6.28,6.42,6.56,6.7,6.84,6.98,7.12],[8.21,5,5.14,5.28,5.42,5.56,5.7,5.84,5.98,6.12,6.26,6.4,6.54,6.68,6.82,6.96,7.05,7.55],[8.3,5.12,5.26,5.4,5.54,5.68,5.82,5.96,6.1,6.24,6.38,6.52,6.66,6.8,7.1,7.25],[8.39,5.04,5.18,5.32,5.46,5.6,5.74,5.88,6.02,6.16,6.3,6.44,6.75,6.9,7.4],[8.48,5.1,5.24,5.38,5.52,5.66,5.8,5.94,6.08,6.22,6.36,6.5,6.7,6.95,7.55],[8.57,5.14,5.28,5.42,5.56,5.7,5.84,5.98,6.12,6.26,6.5,6.75],[8.66,5.08,5.22,5.36,5.5,5.64,5.78,5.92,6.2,6.35,6.52,6.85],[8.75,5.12,5.26,5.4,5.54,5.68,5.82,6,6.15,6.55,6.8],[8.84,5.06,5.2,5.34,5.48,5.62,5.76,5.9,6.05,6.22],[8.93,5.14,5.28,5.42,5.56,5.7,5.84,6,6.2],[9.02,5.04,5.2,5.34,5.48,5.62,5.76,5.9],[9.11,5.28,5.42,5.56,5.7,5.8],[9.2,5.2,5.34,5.48,5.62],[9.29,5.1,5.3,5.44,5.58],[9.38,5.18,5.32,5.46,5.62],[9.47,5.2,5.36,5.5,5.58],[9.56,5.26,5.4,5.52]];

const genes=["CCL7","CST7","CTSK","CTSL","FAT1","MET","MMP13"];
const pearsonValues=["-0.3","-0.41","-0.33","-0.55","-0.42","-0.26","-0.2"];
const pValues=["1.86e-41","1.02e-79","5.94e-52","2.16e-155","1.9e-87","3.35e-32","5.94e-19"];
const pointSets=[ccl7Points,cst7Points,ctskPoints,ctslPoints,fat1Points,metPoints,mmp13Points];
const fitStartY=[5.72,7.58,11.25,11.55,9.38,5.86,6.34];
const fitEndY=[5.05,5.77,8.95,8.88,7.06,5.38,5.47];
const fitX=[5.25,10.1];
const xTicks=[5,6,7,8,9,10];
const yTickLists=[[5,6,7,8,9,10],[5,6,7,8,9,10],[5,6,7,8,9,10,11,12,13,14],[6,7,8,9,10,11,12,13,14],[6,7,8,9,10,11],[5,5.5,6,6.5,7,7.5,8],[5,6,7,8,9,10,11]];

// Layout only: pixel calibration of each panel, title and annotation placement.
const layout=[
{x5:68.7,x10:301.3,yA:[5,297],yB:[10,63.3],l:48.7,r:338,t:48.7,b:338,tx:122.7,ty:36,px:321,py:[97.7,124],xl:[193.5,368],yl:[16,193.7]},
{x5:543,x10:776,yA:[5,321],yB:[10,81.3],l:522.3,r:812.7,t:46.7,b:337,tx:572.7,ty:32.7,px:797.5,py:[98.7,125.3],xl:[667.8,367],yl:[489.3,192.5]},
{x5:1004,x10:1237,yA:[5,338.3],yB:[14,59.7],l:983.7,r:1273.3,t:51.7,b:341,tx:1044.3,ty:38,px:1254.7,py:[97.7,123.3],xl:[1128.8,371],yl:[950,196.7]},
{x5:1430,x10:1662.3,yA:[6,331],yB:[14,64.7],l:1409.3,r:1699,t:50.7,b:341,tx:1451.7,ty:25.7,px:1688,py:[94.7,120.7],xl:[1554,371],yl:[1376.7,196]},
{x5:73.3,x10:311.3,yA:[6,708.7],yB:[11,492],l:52.3,r:349,t:450,b:746.3,tx:100,ty:431.7,px:337.7,py:[502.7,529.3],xl:[201,777],yl:[20,599.3]},
{x5:543,x10:780.3,yA:[5,712.3],yB:[8,475.3],l:522.3,r:818,t:453.3,b:748.3,tx:572.3,ty:440.7,px:795,py:[502.7,529],xl:[670,779],yl:[489.3,601.7]},
{x5:999.3,x10:1237,yA:[5,715],yB:[11,459.3],l:978.7,r:1274.3,t:454,b:750.3,tx:1051,ty:436,px:1243,py:[508,534],xl:[1126.7,781],yl:[945,602.5]}
];

const svg=d3.select("#c");
const sans="'Liberation Sans',Arial,sans-serif";
genes.forEach((gene,i)=>{
  const L=layout[i];
  const xCal=d3.scaleLinear().domain([5,10]).range([L.x5,L.x10]);
  const yCal=d3.scaleLinear().domain([L.yA[0],L.yB[0]]).range([L.yA[1],L.yB[1]]);
  const x=d3.scaleLinear().domain([xCal.invert(L.l),xCal.invert(L.r)]).range([L.l,L.r]);
  const y=d3.scaleLinear().domain([yCal.invert(L.b),yCal.invert(L.t)]).range([L.b,L.t]);
  const g=svg.append("g").style("filter","blur(0.45px)");
  const yTicks=yTickLists[i];
  g.selectAll(".gx").data(xTicks).join("line").attr("x1",d=>x(d)).attr("x2",d=>x(d)).attr("y1",L.t).attr("y2",L.b)
    .attr("stroke","#f1f1f1").attr("stroke-width",0.8).attr("stroke-dasharray","3 3");
  g.selectAll(".gy").data(yTicks).join("line").attr("y1",d=>y(d)).attr("y2",d=>y(d)).attr("x1",L.l).attr("x2",L.r)
    .attr("stroke","#f1f1f1").attr("stroke-width",0.8).attr("stroke-dasharray","3 3");
  const ax=g.append("g").attr("transform",`translate(0,${L.b})`).call(d3.axisBottom(x).tickValues(xTicks).tickSize(0).tickPadding(7).tickFormat(d3.format("d")));
  const ay=g.append("g").attr("transform",`translate(${L.l},0)`).call(d3.axisLeft(y).tickValues(yTicks).tickSizeOuter(0).tickSize(3).tickPadding(1).tickFormat(d=>String(d)));
  [ax,ay].forEach(a=>{a.selectAll("path").attr("stroke","#777").attr("stroke-width",1.2);
    a.selectAll("line").attr("stroke","#777");
    a.selectAll("text").attr("fill","#666").style("font-family",sans).style("font-size","10px");});
  const pts=pointSets[i].flatMap(r=>r.slice(1).map(v=>[r[0],v]));
  g.selectAll("circle").data(pts).join("circle").attr("cx",d=>x(d[0])).attr("cy",d=>y(d[1])).attr("r",3.5)
    .attr("fill","#3f9df2").attr("fill-opacity",0.92).attr("stroke","#1f7fdc").attr("stroke-width",0.8);
  g.append("path").datum([[fitX[0],fitStartY[i]],[fitX[1],fitEndY[i]]])
    .attr("d",d3.line().x(d=>x(d[0])).y(d=>y(d[1]))).attr("fill","none").attr("stroke","#c9524f").attr("stroke-width",1.4);
  g.append("text").attr("x",L.xl[0]).attr("y",L.xl[1]).attr("text-anchor","middle").attr("fill","#888")
    .style("font-family",sans).style("font-size","8.7px").text("mRNA expression (microarray): FAAH (1p33)");
  g.append("text").attr("transform",`translate(${L.yl[0]+3},${L.yl[1]}) rotate(-90)`).attr("text-anchor","middle").attr("fill","#888")
    .style("font-family",sans).style("font-size","8.7px").text(`mRNA expression (microarray): ${gene}`);
  svg.append("text").attr("x",L.tx).attr("y",L.ty).attr("fill","#000").style("font-family",sans).style("font-style","italic").style("font-size","27px").text(`FAAH vs. ${gene}`);
  svg.append("text").attr("x",L.px).attr("y",L.py[0]).attr("text-anchor","middle").attr("fill","#000").style("font-family",sans).style("font-size","21.4px").text(`Pearson: ${pearsonValues[i]}`);
  svg.append("text").attr("x",L.px).attr("y",L.py[1]).attr("text-anchor","middle").attr("fill","#000").style("font-family",sans).style("font-size","21.4px").text(`p ${pValues[i]}`);
});
</script></body></html>
